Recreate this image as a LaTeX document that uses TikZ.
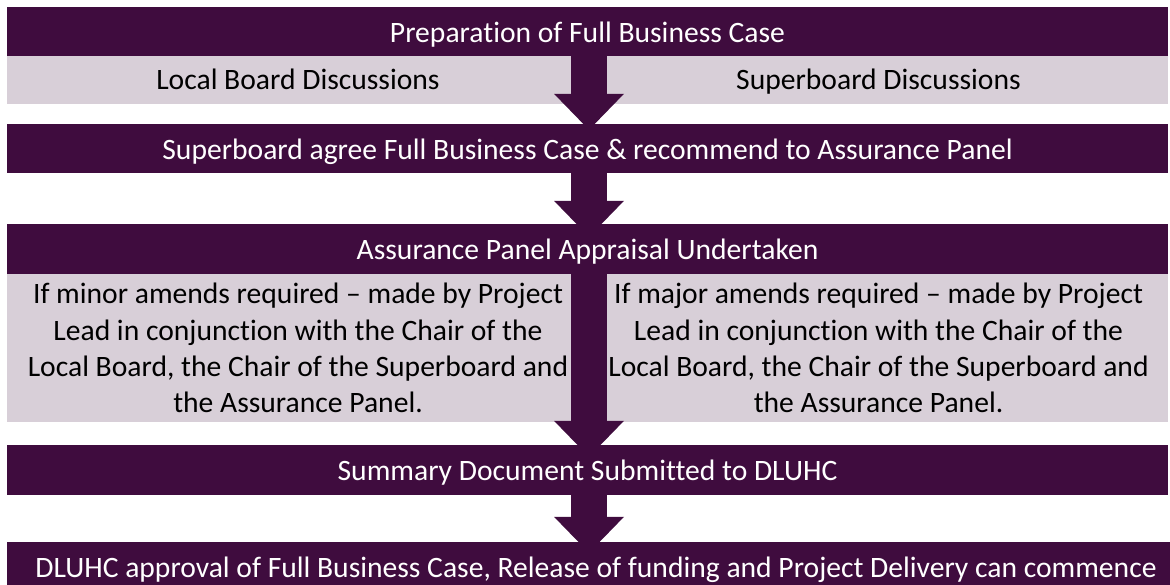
\documentclass[tikz,border=0pt]{standalone}
\usepackage{fontspec}
\setmainfont{Carlito}[Ligatures=NoCommon]
\usepackage{tikz}
\usetikzlibrary{arrows.meta, positioning, calc}
\definecolor{darkplum}{RGB}{63, 12, 62}
\definecolor{lightplum}{RGB}{216, 207, 216}

\tikzset{
    darkbar/.style={fill=darkplum, text=white, minimum width=1161pt, minimum height=49pt, inner sep=0pt, text height=27pt, text depth=6pt},
    lightbox/.style={fill=lightplum, text=black, minimum height=48pt, inner sep=0pt, align=center},
    fatarrow/.style={darkplum, line width=36pt, -{Triangle[width=70pt, length=36pt, line width=0pt]}}
}

\begin{document}
\begin{tikzpicture}[x=1pt, y=-1pt, font=\fontsize{29.6}{36.3}\selectfont]
    \useasboundingbox (0, 0) rectangle (1170, 584);
    \clip (0, 0) rectangle (1170, 584);

    % Stage bars
    \node[darkbar] (prep) at (587.5, 31.5) {Preparation of Full Business Case};
    \node[lightbox, minimum width=582pt, text height=24pt, text depth=6pt] (localdisc) at (298, 80) {Local Board Discussions};
    \node[lightbox, minimum width=579pt, text height=24pt, text depth=6pt] (superdisc) at (878.5, 80) {Superboard Discussions};
    \node[darkbar] (agree) at (587.5, 148.5) {Superboard agree Full Business Case \& recommend to Assurance Panel};
    \node[darkbar, minimum height=50pt] (appraisal) at (587.5, 249) {Assurance Panel Appraisal Undertaken};

    % Amend boxes
    \node[lightbox, minimum width=582pt, minimum height=148pt] (minor) at (298, 348)
        {If minor amends required -- made by Project\\Lead in conjunction with the Chair of the\\Local Board, the Chair of the Superboard and\\the Assurance Panel.};
    \node[lightbox, minimum width=579pt, minimum height=148pt] (major) at (878.5, 348)
        {If major amends required -- made by Project\\Lead in conjunction with the Chair of the\\Local Board, the Chair of the Superboard and\\the Assurance Panel.};

    \node[darkbar, minimum height=50pt] (summary) at (587.5, 470) {Summary Document Submitted to DLUHC};
    \node[darkbar, minimum width=1178pt] (approval) at (596, 566.5) {DLUHC approval of Full Business Case, Release of funding and Project Delivery can commence};

    % Block arrows down the middle
    \coordinate (spine) at (589, 0);
    \draw[fatarrow] (prep.south -| spine) -- ($(agree.north -| spine) + (0, 6)$);
    \draw[fatarrow] (agree.south -| spine) -- ($(appraisal.north -| spine) + (0, 13)$);
    \draw[fatarrow] (appraisal.south -| spine) -- ($(summary.north -| spine) + (0, 12)$);
    \draw[fatarrow] (summary.south -| spine) -- ($(approval.north -| spine) + (0, 11)$);
\end{tikzpicture}
\end{document}
